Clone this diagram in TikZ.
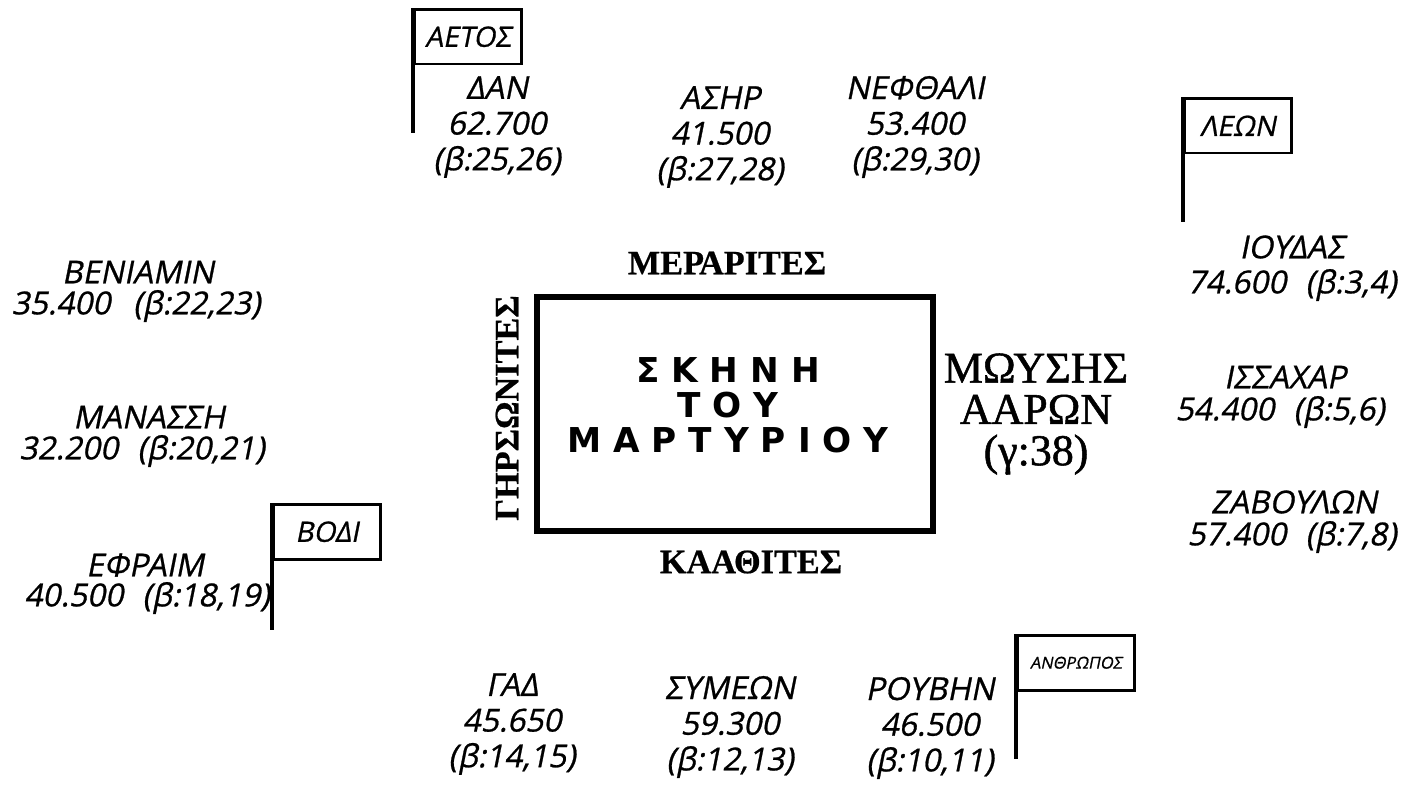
\documentclass[tikz,border=0pt]{standalone}
\usepackage{fontspec}
\setmainfont{Liberation Serif}
\newfontfamily\tribefont[FakeSlant=0.2, FakeBold=0.8]{Open Sans}
\newfontfamily\levitefont[FakeBold=0.6]{Liberation Serif}
\newfontfamily\leaderfont[FakeBold=1.2]{Liberation Serif}
\newfontfamily\tentfont{DejaVu Sans}

\begin{document}
\begin{tikzpicture}[
    x=0.2mm, y=-0.2mm,
    % Tribe labels, flags and the Levite camps
    tribe/.style={font=\tribefont\fontsize{18}{20.3}\selectfont, align=center, inner sep=0pt},
    flagbox/.style={draw, line width=1.7pt, anchor=north west, minimum width=21.4mm, minimum height=10.9mm, inner sep=0pt, font=\tribefont\fontsize{16}{18}\selectfont},
    pole/.style={line width=1.9pt},
    levite/.style={font=\levitefont\bfseries\fontsize{19.5}{22}\selectfont, inner sep=0pt},
    leader/.style={font=\leaderfont\fontsize{25}{23.5}\selectfont, align=center, inner sep=0pt},
    tentstyle/.style={draw, line width=3.6pt, minimum width=79.2mm, minimum height=46.8mm, inner sep=0pt}
  ]
  \useasboundingbox (0,0) rectangle (1407,787);

  % =========================================================================
  % TENT OF THE TESTIMONY
  % =========================================================================
  \node[tentstyle] (tent) at (735,414) {};
  \node[font=\tentfont\bfseries\fontsize{19.5}{20}\selectfont, align=center, inner sep=0pt] (tentlabel) at (728,405)
    {Σ Κ Η Ν Η\\Τ Ο Υ\\Μ Α Ρ Τ Υ Ρ Ι Ο Υ};

  \node[levite] (merari) at (727,263) {ΜΕΡΑΡΙΤΕΣ};
  \node[levite] (kohath) at (751,562) {ΚΑΑΘΙΤΕΣ};
  \node[levite, rotate=90] (gershon) at (507,408) {ΓΗΡΣΩΝΙΤΕΣ};
  \node[leader] (moses) at (1036,414) {ΜΩΥΣΗΣ\\ΑΑΡΩΝ\\(γ:38)};

  % =========================================================================
  % NORTH: DAN, ASHER, NAPHTALI
  % =========================================================================
  \node[flagbox] (aetos) at (413,8) {ΑΕΤΟΣ};
  \coordinate (aetosfoot) at (413,133);
  \draw[pole] (aetos.north west) -- (aetosfoot);
  \node[tribe] (dan) at (497,127) {ΔΑΝ\\62.700\\(β:25,26)};
  \node[tribe] (asher) at (720,137) {ΑΣΗΡ\\41.500\\(β:27,28)};
  \node[tribe] (naphtali) at (915,127) {ΝΕΦΘΑΛΙ\\53.400\\(β:29,30)};

  % =========================================================================
  % EAST: JUDAH, ISSACHAR, ZEBULUN
  % =========================================================================
  \node[flagbox] (leon) at (1183,97) {ΛΕΩΝ};
  \coordinate (leonfoot) at (1183,222);
  \draw[pole] (leon.north west) -- (leonfoot);
  \node[tribe] (judah) at (1292,247) {ΙΟΥΔΑΣ};
  \node[tribe] (judahnum) at (1292,285) {74.600\hspace{11pt}(β:3,4)};
  \node[tribe] (issachar) at (1285,377) {ΙΣΣΑΧΑΡ};
  \node[tribe] (issacharnum) at (1280,412) {54.400\hspace{11pt}(β:5,6)};
  \node[tribe] (zebulun) at (1294,502) {ΖΑΒΟΥΛΩΝ};
  \node[tribe] (zebulunnum) at (1292,537) {57.400\hspace{11pt}(β:7,8)};

  % =========================================================================
  % WEST: BENJAMIN, MANASSEH, EPHRAIM
  % =========================================================================
  \node[tribe] (benjamin) at (138,272) {ΒΕΝΙΑΜΙΝ};
  \node[tribe] (benjaminnum) at (136,306) {35.400\hspace{13pt}(β:22,23)};
  \node[tribe] (manasseh) at (149,417) {ΜΑΝΑΣΣΗ};
  \node[tribe] (manassehnum) at (142,451) {32.200\hspace{11pt}(β:20,21)};
  \node[flagbox] (vodi) at (272,503) {ΒΟΔΙ};
  \coordinate (vodifoot) at (272,630);
  \draw[pole] (vodi.north west) -- (vodifoot);
  \node[tribe] (ephraim) at (145,565) {ΕΦΡΑΙΜ};
  \node[tribe] (ephraimnum) at (147,598) {40.500\hspace{11pt}(β:18,19)};

  % =========================================================================
  % SOUTH: GAD, SIMEON, REUBEN
  % =========================================================================
  \node[tribe] (gad) at (512,724) {ΓΑΔ\\45.650\\(β:14,15)};
  \node[tribe] (simeon) at (730,727) {ΣΥΜΕΩΝ\\59.300\\(β:12,13)};
  \node[tribe] (reuben) at (930,728) {ΡΟΥΒΗΝ\\46.500\\(β:10,11)};
  \node[flagbox, minimum width=23.4mm, font=\tribefont\fontsize{9.3}{11}\selectfont] (anthropos) at (1016,634) {ΑΝΘΡΩΠΟΣ};
  \coordinate (anthroposfoot) at (1016,759);
  \draw[pole] (anthropos.north west) -- (anthroposfoot);

\end{tikzpicture}
\end{document}
